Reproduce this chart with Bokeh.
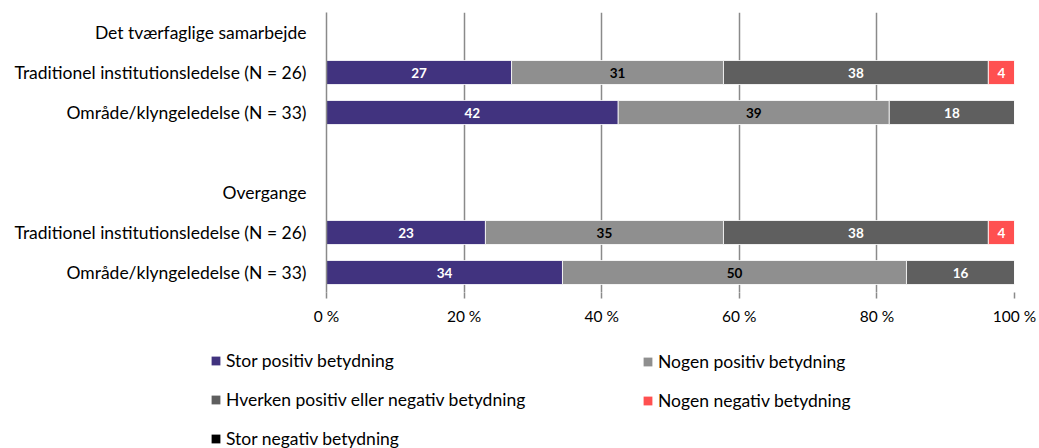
from bokeh.plotting import figure
from bokeh.layouts import column
from bokeh.models import Legend, LegendItem, ColumnDataSource, FixedTicker
from bokeh.core.properties import value
from bokeh.embed import file_html
from bokeh.resources import INLINE

FONT = "Lato"

row_labels = ["Det tværfaglige samarbejde",
              "Traditionel institutionsledelse (N = 26)",
              "Område/klyngeledelse (N = 33)",
              "",
              "Overgange",
              "Traditionel institutionsledelse (N = 26)",
              "Område/klyngeledelse (N = 33)"]
row_pos = [6, 5, 4, 3, 2, 1, 0]
bar_pos = [5, 4, 1, 0]

series_names = ["Stor positiv betydning", "Nogen positiv betydning",
                "Hverken positiv eller negativ betydning", "Nogen negativ betydning",
                "Stor negativ betydning"]
stor_pos = [26.9, 42.4, 23.1, 34.3]
nogen_pos = [30.8, 39.4, 34.6, 50.0]
hverken = [38.5, 18.2, 38.5, 15.7]
nogen_neg = [3.8, 0.0, 3.8, 0.0]
stor_neg = [0.0, 0.0, 0.0, 0.0]
colors = ["#41337f", "#8f8f8f", "#5f5f5f", "#ff5050", "#000000"]
text_colors = ["white", "black", "white", "white", "white"]
x_ticks = [0, 20, 40, 60, 80, 100]

series = [stor_pos, nogen_pos, hverken, nogen_neg, stor_neg]

p = figure(width=1039, height=340, x_range=(0, 100), y_range=(-0.5, 6.5),
           output_backend="svg", toolbar_location=None,
           min_border_left=326, min_border_right=25, min_border_top=12,
           min_border_bottom=48)
p.outline_line_color = None

left = [0.0] * len(bar_pos)
for i, vals in enumerate(series):
    right = [l + v for l, v in zip(left, vals)]
    src = ColumnDataSource(dict(y=bar_pos, left=left, right=right))
    p.hbar(y="y", left="left", right="right", height=0.6, source=src,
           fill_color=colors[i], line_color="white", line_width=0.8)
    xs, ys, ts = [], [], []
    for l, v, y in zip(left, vals, bar_pos):
        if v > 0:
            xs.append(l + v / 2)
            ys.append(y)
            ts.append(str(round(v)))
    if xs:
        p.text(x=xs, y=ys, text=ts, text_align="center", text_baseline="middle",
               text_font=value(FONT), text_font_size="13.5px", text_font_style="bold",
               text_color=text_colors[i])
    left = right

p.xaxis.ticker = FixedTicker(ticks=x_ticks)
p.xaxis.major_label_overrides = {t: f"{t} %" for t in x_ticks}
p.xaxis.axis_line_color = None
p.xaxis.major_tick_line_color = "#8a8a8a"
p.xaxis.major_tick_line_width = 1.5
p.xaxis.major_tick_out = 6
p.xaxis.major_tick_in = 0
p.xaxis.minor_tick_line_color = None
p.xaxis.major_label_text_font = FONT
p.xaxis.major_label_text_font_size = "15.5px"
p.xaxis.major_label_text_color = "black"
p.xaxis.major_label_standoff = 8

p.yaxis.ticker = FixedTicker(ticks=row_pos)
p.yaxis.major_label_overrides = {pos: lab for pos, lab in zip(row_pos, row_labels)}
p.yaxis.axis_line_color = "#8a8a8a"
p.yaxis.axis_line_width = 1.5
p.yaxis.major_tick_line_color = None
p.yaxis.minor_tick_line_color = None
p.yaxis.major_label_text_font = FONT
p.yaxis.major_label_text_font_size = "17.5px"
p.yaxis.major_label_text_color = "black"
p.yaxis.major_label_standoff = 14

p.xgrid.ticker = FixedTicker(ticks=x_ticks)
p.xgrid.grid_line_color = "#8a8a8a"
p.xgrid.grid_line_width = 1.5
p.ygrid.grid_line_color = None

# legend panel
lf = figure(width=1039, height=108, x_range=(0, 1), y_range=(0, 1),
            output_backend="svg", toolbar_location=None,
            x_axis_location=None, y_axis_location=None,
            min_border_left=0, min_border_right=0, min_border_top=0, min_border_bottom=0)
if "frame_align" in lf.properties():
    lf.frame_align = False
lf.outline_line_color = None
lf.grid.visible = False
dummy = []
for i in range(len(series_names)):
    dummy.append(lf.hbar(y=[-5], left=[-5], right=[-5], height=0.1,
                         fill_color=colors[i], line_color=None))

def make_legend(idx, loc):
    items = [LegendItem(label=series_names[i], renderers=[dummy[i]]) for i in idx]
    return Legend(items=items, location=loc, orientation="vertical",
                  label_text_font=FONT, label_text_font_size="17.5px",
                  label_text_color="black", glyph_width=11, glyph_height=11,
                  label_height=20, label_standoff=5, spacing=18, padding=0,
                  margin=0, border_line_color=None, background_fill_alpha=0)

lf.add_layout(make_legend([0, 2, 4], (210, -1)), "center")
lf.add_layout(make_legend([1, 3], (642, 37)), "center")

open("out.html", "w").write(file_html(column(p, lf, spacing=0), INLINE))
